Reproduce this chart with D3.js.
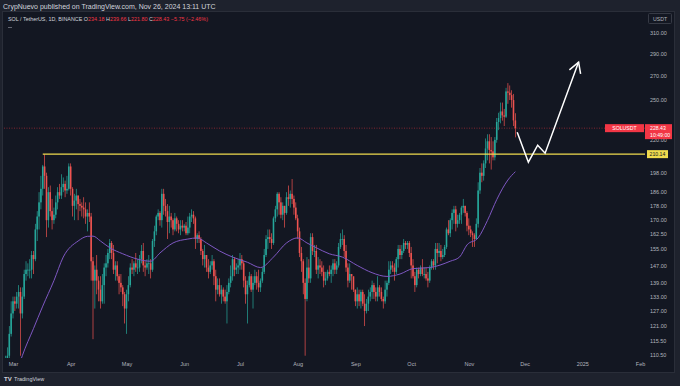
<!DOCTYPE html>
<html>
<head>
<meta charset="utf-8">
<script src="https://d3js.org/d3.v7.min.js"></script>
<style>
  body { margin: 0; background: #1e222d; }
  svg text { font-family: "Liberation Sans", Arial, sans-serif; }
</style>
</head>
<body>
<svg id="chart" width="680" height="386"></svg>
<script>
// SOL / TetherUS daily, 2024-02-25 .. 2024-11-26 (open = previous close)
const firstDate = "2024-02-25";
const firstOpen = 102;

const closes = [
  103, 108, 110, 118, 126,
  131, 130, 133, 135, 126, 133, 143, 145, 145, 145, 152, 150, 165, 172, 180, 188, 202, 196, 170, 186, 175, 170, 173, 180, 186, 184, 189, 191, 187, 188, 202,
  188, 178, 181, 184, 179, 178, 177, 176, 172, 174, 172, 149, 140, 145, 140, 136, 131, 138, 146, 148, 153, 158, 153, 145, 147, 142, 139, 137, 134, 128,
  134, 138, 146, 145, 148, 146, 146, 150, 154, 147, 146, 148, 148, 145, 159, 164, 172, 174, 170, 185, 178, 175, 169, 172, 170, 165, 171, 168, 165, 167, 166,
  167, 163, 166, 172, 173, 171, 160, 162, 160, 154, 150, 152, 146, 144, 147, 149, 142, 136, 138, 134, 136, 133, 131, 135, 139, 142, 150, 145, 146, 147,
  150, 148, 140, 134, 138, 142, 136, 139, 142, 139, 137, 140, 144, 152, 160, 161, 160, 158, 171, 176, 185, 180, 173, 178, 174, 183, 182, 185, 182, 177, 171,
  164, 153, 149, 139, 132, 146, 141, 161, 154, 154, 145, 147, 146, 144, 140, 141, 144, 143, 145, 148, 145, 147, 156, 160, 160, 154, 146, 140, 143, 142, 136,
  131, 134, 131, 135, 130, 127, 130, 133, 135, 138, 135, 133, 137, 135, 132, 131, 136, 139, 145, 147, 146, 144, 150, 155, 152, 154, 158, 157, 158, 153,
  147, 142, 138, 145, 143, 146, 143, 143, 141, 140, 146, 149, 147, 155, 153, 154, 151, 152, 156, 165, 163, 170, 174, 176, 168, 170, 173, 177, 178, 174, 167,
  165, 163, 162, 160, 168, 187, 198, 196, 204, 214, 219, 213, 212, 208, 220, 233, 236, 241, 238, 237, 257, 256, 254, 250, 234.18, 228.43
];
const highs = [
  105, 110, 113, 121, 131,
  133, 133, 135, 138, 137, 137, 145, 149, 148, 150, 154, 154, 168, 175, 186, 196, 203, 210.14, 198, 189, 190, 182, 177, 184, 189, 191, 197, 195, 193, 196, 204,
  204, 189, 185, 188, 184, 182, 180, 183, 180, 176, 180, 174, 151, 147, 152, 142, 142, 143, 148, 152, 155, 160, 159, 157, 149, 149, 143, 143, 138, 135,
  136, 142, 148, 150, 149, 153, 150, 152, 157, 158, 149, 150, 152, 150, 160, 167, 173, 176, 175, 188, 188, 182, 179, 178, 174, 171, 174, 172, 170, 170, 170,
  168, 169, 172, 174, 176, 175, 172, 163, 164, 161, 155, 157, 152, 150, 149, 152, 150, 145, 141, 141, 138, 137, 136, 138, 141, 147, 152, 151, 148, 150,
  153, 152, 149, 142, 140, 144, 143, 142, 145, 144, 145, 141, 146, 155, 162, 165, 165, 163, 172, 178, 186, 186, 183, 180, 178, 186, 190, 187, 194, 184, 180,
  173, 166, 156, 150, 141, 151, 150, 163, 163, 157, 157, 151, 150, 149, 147, 144, 145, 147, 147, 150, 150, 149, 158, 163, 165, 162, 157, 148, 148, 143, 141,
  136, 137, 136, 136, 136, 134, 132, 136, 137, 140, 139, 137, 142, 138, 137, 133, 140, 140, 149, 149, 149, 148, 151, 157, 157, 157, 160, 159, 159, 159,
  156, 150, 144, 146, 146, 147, 150, 146, 146, 144, 147, 150, 150, 158, 158, 158, 157, 155, 157, 166, 170, 171, 176, 178, 178, 173, 174, 178, 182, 178, 175,
  171, 167, 164, 163, 171, 192, 201, 204, 206, 221, 224, 224, 222, 219, 222, 236, 240, 248, 248, 243, 260, 264, 262, 258, 255, 239.66
];
const lows = [
  101, 102, 106, 108, 117,
  124, 127, 128, 128, 110, 124, 132, 140, 142, 141, 141, 143, 149, 159, 165, 176, 184, 188, 161, 166, 172, 165, 168, 171, 176, 182, 182, 186, 183, 185, 187,
  184, 172, 170, 176, 170, 175, 172, 171, 168, 164, 169, 140, 116, 128, 134, 131, 128, 130, 130, 142, 146, 150, 150, 143, 140, 140, 134, 135, 129, 122,
  118, 131, 137, 143, 142, 144, 143, 144, 148, 144, 142, 145, 143, 141, 144, 156, 162, 170, 167, 166, 173, 172, 160, 163, 166, 162, 164, 164, 163, 162, 164,
  164, 162, 162, 163, 169, 168, 155, 158, 158, 152, 147, 146, 144, 141, 143, 145, 138, 131, 134, 133, 130, 131, 130, 122, 134, 137, 140, 142, 143, 143,
  145, 145, 137, 130, 122, 137, 135, 128, 138, 136, 135, 135, 139, 143, 151, 155, 158, 155, 157, 169, 172, 173, 171, 170, 166, 173, 178, 177, 179, 173, 170,
  160, 151, 144, 134, 110, 131, 139, 139, 152, 151, 143, 141, 143, 142, 137, 138, 140, 142, 139, 142, 143, 143, 146, 155, 157, 151, 144, 137, 139, 136, 135,
  129, 128, 129, 128, 129, 121, 126, 127, 131, 132, 132, 131, 131, 133, 131, 128, 130, 133, 138, 143, 144, 140, 143, 146, 150, 150, 153, 155, 155, 151,
  141, 141, 135, 137, 141, 142, 142, 141, 140, 137, 139, 145, 145, 145, 148, 151, 149, 150, 151, 155, 162, 161, 165, 168, 164, 166, 168, 168, 174, 172, 164,
  162, 161, 156, 156, 160, 166, 185, 192, 193, 201, 206, 204, 200, 206, 206, 218, 227, 232, 234, 230, 236, 247, 250, 244, 230, 221.80
];

// moving average line
const maDates = ["2024-03-01", "2024-03-06", "2024-03-12", "2024-03-17", "2024-03-23", "2024-03-28", "2024-04-05", "2024-04-10",
  "2024-04-13", "2024-04-17", "2024-04-22", "2024-04-29", "2024-05-07", "2024-05-14", "2024-05-19", "2024-05-26", "2024-06-03",
  "2024-06-08", "2024-06-13", "2024-06-20", "2024-06-27", "2024-07-05", "2024-07-12", "2024-07-19", "2024-07-26", "2024-08-01",
  "2024-08-06", "2024-08-11", "2024-08-18", "2024-08-25", "2024-09-02", "2024-09-10", "2024-09-18", "2024-09-25", "2024-10-02",
  "2024-10-11", "2024-10-22", "2024-10-27", "2024-10-31", "2024-11-06", "2024-11-11", "2024-11-16", "2024-11-22", "2024-11-26"];
const maValues = [100, 110, 120, 129, 140, 151, 159, 161.4,
  161.5, 159, 155.6, 152.6, 150, 149, 153, 158, 160,
  160.6, 158, 154, 151, 148.5, 146, 151, 158, 160.6,
  158, 155.6, 152.6, 151, 147, 143.6, 141.9, 143, 145.5,
  146, 149, 151, 157, 160.6, 169.8, 181.6, 193.4, 198.6];

const priceTicks = [310, 290, 270, 250, 220, 198, 186, 178, 170, 162.5, 155, 147, 139, 133, 127, 121, 115.5, 110.5];
const monthTicks = ["2024-03-01", "2024-04-01", "2024-05-01", "2024-06-01", "2024-07-01", "2024-08-01", "2024-09-01",
  "2024-10-01", "2024-11-01", "2024-12-01", "2025-01-01", "2025-02-01"];

const levelStart = "2024-03-17";
const levelPrice = 210.14;
const lastPrice = 228.43;

// hand drawn projection
const pathDates = ["2024-11-27", "2024-12-03", "2024-12-08", "2024-12-12", "2024-12-30"];
const pathPrices = [225.5, 204.8, 216.3, 210.8, 282.4];

const upColor = "#26a69a", downColor = "#ef5350";

const parseDay = d3.utcParse("%Y-%m-%d");
const start = parseDay(firstDate);
const data = closes.map((c, i) => ({
  date: d3.utcDay.offset(start, i),
  open: i === 0 ? firstOpen : closes[i - 1],
  high: highs[i],
  low: lows[i],
  close: c
}));

const svg = d3.select("#chart");
const pane = { left: 4, right: 645, top: 12, bottom: 358 };

const x = d3.scaleUtc()
  .domain([parseDay("2024-03-01"), parseDay("2025-02-01")])
  .range([13, 640]);
const y = d3.scaleLog()
  .domain([109.2, 331.7])
  .range([pane.bottom, pane.top]);

// frame
svg.append("rect").attr("x", 2.5).attr("y", 11.5).attr("width", 672).attr("height", 361)
  .attr("fill", "#131722").attr("stroke", "#2a2e39");

svg.append("text").attr("x", 3).attr("y", 8.5).attr("fill", "#d1d4dc").attr("font-size", 7)
  .text("CrypNuevo published on TradingView.com, Nov 26, 2024 13:11 UTC");

svg.append("defs").append("clipPath").attr("id", "clip")
  .append("rect").attr("x", pane.left).attr("y", pane.top)
  .attr("width", pane.right - pane.left).attr("height", pane.bottom - pane.top);

const g = svg.append("g").attr("clip-path", "url(#clip)");

// last price dotted line
g.append("line").attr("x1", pane.left).attr("x2", pane.right)
  .attr("y1", y(lastPrice)).attr("y2", y(lastPrice))
  .attr("stroke", "#f23645").attr("stroke-width", 0.7).attr("stroke-dasharray", "1,1.5").attr("opacity", 0.7);

// wicks
g.selectAll("rect.wick").data(data).enter().append("rect")
  .attr("class", "wick")
  .attr("x", d => x(d.date) - 0.35)
  .attr("width", 0.7)
  .attr("y", d => y(d.high))
  .attr("height", d => y(d.low) - y(d.high))
  .attr("fill", d => d.close >= d.open ? upColor : downColor);

// bodies
g.selectAll("rect.body").data(data).enter().append("rect")
  .attr("class", "body")
  .attr("x", d => x(d.date) - 0.8)
  .attr("width", 1.6)
  .attr("y", d => y(Math.max(d.open, d.close)))
  .attr("height", d => Math.max(0.8, Math.abs(y(d.open) - y(d.close))))
  .attr("fill", d => d.close >= d.open ? upColor : downColor);

// moving average
const ma = maDates.map((d, i) => ({ date: parseDay(d), value: maValues[i] }));
g.append("path").datum(ma)
  .attr("fill", "none").attr("stroke", "#7e57c2").attr("stroke-width", 1)
  .attr("d", d3.line().x(d => x(d.date)).y(d => y(d.value)).curve(d3.curveMonotoneX));

// horizontal level
g.append("line").attr("x1", x(parseDay(levelStart))).attr("x2", pane.right)
  .attr("y1", y(levelPrice)).attr("y2", y(levelPrice))
  .attr("stroke", "#f0dc4e").attr("stroke-width", 1.3);

// projection path with arrow head
const pts = pathDates.map((d, i) => [x(parseDay(d)), y(pathPrices[i])]);
g.append("path").attr("d", d3.line()(pts))
  .attr("fill", "none").attr("stroke", "#ffffff").attr("stroke-width", 1.5).attr("stroke-linejoin", "miter");
const tip = pts[pts.length - 1], prev = pts[pts.length - 2];
const ang = Math.atan2(prev[1] - tip[1], prev[0] - tip[0]);
const wing = a => [tip[0] + 12 * Math.cos(ang + a), tip[1] + 12 * Math.sin(ang + a)];
g.append("path").attr("d", d3.line()([wing(0.52), tip, wing(-0.52)]))
  .attr("fill", "none").attr("stroke", "#ffffff").attr("stroke-width", 1.5);

// price axis
const yAxis = svg.append("g").attr("transform", `translate(${pane.right},0)`)
  .call(d3.axisRight(y).tickValues(priceTicks).tickFormat(d3.format(".2f")).tickSize(0).tickPadding(5));
yAxis.select(".domain").remove();
yAxis.selectAll("text").attr("fill", "#b2b5be").attr("font-size", 5.5).attr("font-family", "Liberation Sans, Arial, sans-serif");

// time axis
const xAxis = svg.append("g").attr("transform", `translate(0,${pane.bottom})`)
  .call(d3.axisBottom(x).tickValues(monthTicks.map(parseDay))
    .tickFormat(d => d.getUTCMonth() === 0 ? d3.utcFormat("%Y")(d) : d3.utcFormat("%b")(d))
    .tickSize(0).tickPadding(4));
xAxis.select(".domain").remove();
xAxis.selectAll("text").attr("fill", "#b2b5be").attr("font-size", 5.5).attr("font-family", "Liberation Sans, Arial, sans-serif");

// USDT box
svg.append("rect").attr("x", 648.5).attr("y", 13.5).attr("width", 23).attr("height", 10)
  .attr("fill", "none").attr("stroke", "#363a45").attr("rx", 1);
svg.append("text").attr("x", 660).attr("y", 20.5).attr("text-anchor", "middle")
  .attr("fill", "#b2b5be").attr("font-size", 5.2).text("USDT");

// last price tags
const ly = y(lastPrice);
svg.append("rect").attr("x", 605).attr("y", ly - 4).attr("width", 39).attr("height", 8).attr("fill", "#f23645");
svg.append("text").attr("x", 624.5).attr("y", ly + 2).attr("text-anchor", "middle")
  .attr("fill", "#ffffff").attr("font-size", 5.2).text("SOLUSDT");
svg.append("rect").attr("x", 645).attr("y", ly - 4).attr("width", 27).attr("height", 15).attr("fill", "#f23645");
svg.append("text").attr("x", 650).attr("y", ly + 2).attr("fill", "#ffffff").attr("font-size", 5.2).text(d3.format(".2f")(lastPrice));
svg.append("text").attr("x", 650).attr("y", ly + 9).attr("fill", "#ffffff").attr("font-size", 5.2).text("10:49:00");

// level tag
const lv = y(levelPrice);
svg.append("rect").attr("x", 647).attr("y", lv - 4).attr("width", 21).attr("height", 8).attr("fill", "#f0dc4e");
svg.append("text").attr("x", 649.5).attr("y", lv + 2).attr("fill", "#131722").attr("font-size", 5.2).text(d3.format(".2f")(levelPrice));

// legend
const last = data[data.length - 1], before = data[data.length - 2];
const chg = last.close - before.close;
const legend = svg.append("text").attr("x", 8).attr("y", 21).attr("font-size", 5.4).attr("fill", "#d1d4dc");
legend.append("tspan").text("SOL / TetherUS, 1D, BINANCE O");
legend.append("tspan").attr("fill", "#f23645").text(d3.format(".2f")(last.open));
legend.append("tspan").text(" H");
legend.append("tspan").attr("fill", "#f23645").text(d3.format(".2f")(last.high));
legend.append("tspan").text(" L");
legend.append("tspan").attr("fill", "#f23645").text(d3.format(".2f")(last.low));
legend.append("tspan").text(" C");
legend.append("tspan").attr("fill", "#f23645")
  .text(`${d3.format(".2f")(last.close)} ${d3.format(".2f")(chg)} (${d3.format(".2%")(chg / before.close)})`);
svg.append("line").attr("x1", 8).attr("x2", 12).attr("y1", 27.5).attr("y2", 27.5)
  .attr("stroke", "#787b86").attr("stroke-width", 0.8);

// footer logo
svg.append("text").attr("x", 4).attr("y", 381).attr("fill", "#d1d4dc").attr("font-size", 6)
  .attr("font-weight", "bold").text("TV");
svg.append("text").attr("x", 14).attr("y", 381).attr("fill", "#d1d4dc").attr("font-size", 5.5)
  .text("TradingView");
</script>
</body>
</html>
